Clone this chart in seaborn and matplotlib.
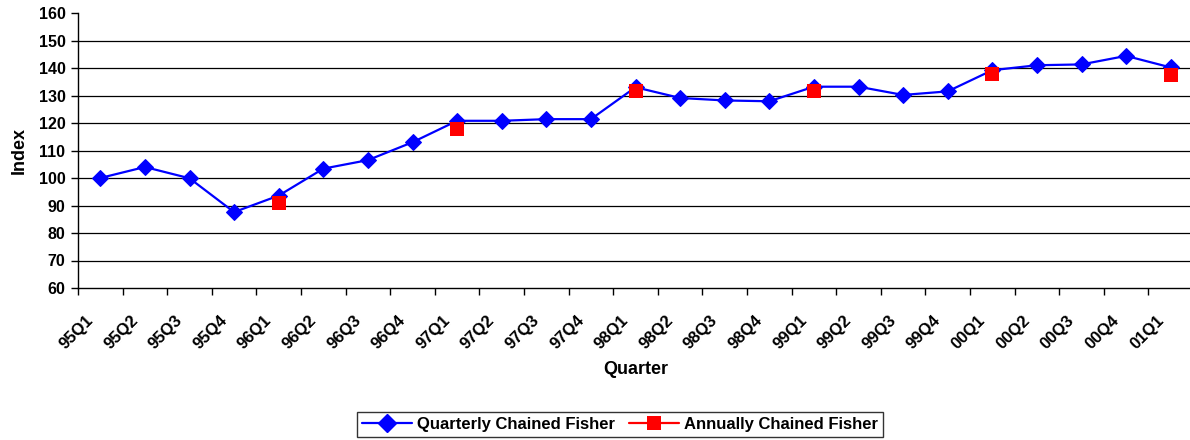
import numpy as np
import pandas as pd
import matplotlib
matplotlib.use("Agg")
import matplotlib.pyplot as plt
from matplotlib.lines import Line2D
import seaborn as sns

quarters = ["95Q1", "95Q2", "95Q3", "95Q4", "96Q1", "96Q2", "96Q3", "96Q4",
            "97Q1", "97Q2", "97Q3", "97Q4", "98Q1", "98Q2", "98Q3", "98Q4",
            "99Q1", "99Q2", "99Q3", "99Q4", "00Q1", "00Q2", "00Q3", "00Q4",
            "01Q1"]
quarterly_fisher = [100.0, 104.0, 99.9, 87.6, 93.6, 103.4, 106.5, 113.0,
                    120.8, 120.8, 121.4, 121.4, 133.0, 129.1, 128.2, 127.9,
                    133.2, 133.2, 130.2, 131.5, 139.2, 141.0, 141.3, 144.4,
                    140.2]
annual_quarters = ["96Q1", "97Q1", "98Q1", "99Q1", "00Q1", "01Q1"]
annual_fisher = [90.9, 117.9, 131.6, 131.6, 137.7, 137.6]
y_ticks = [60, 70, 80, 90, 100, 110, 120, 130, 140, 150, 160]

sns.set_style("white")
plt.rcParams["font.family"] = ["Liberation Sans", "DejaVu Sans"]
plt.rcParams["font.weight"] = "bold"
plt.rcParams["text.color"] = "black"
plt.rcParams["axes.labelcolor"] = "black"
plt.rcParams["xtick.color"] = "black"
plt.rcParams["ytick.color"] = "black"

pos = {q: i for i, q in enumerate(quarters)}
quarterly_df = pd.DataFrame({"x": np.arange(len(quarters)), "value": quarterly_fisher})
annual_df = pd.DataFrame({"x": [pos[q] for q in annual_quarters], "value": annual_fisher})

fig = plt.figure(figsize=(11.9, 4.4), dpi=100)
ax = fig.add_axes([78 / 1190, 1 - 288 / 440, 1115 / 1190, 275 / 440])

blue = "#0000FF"
red = "#FF0000"

sns.lineplot(data=quarterly_df, x="x", y="value", ax=ax, color=blue,
             linewidth=1.6, marker="D", markersize=8.5, markeredgecolor=blue,
             zorder=3)
sns.scatterplot(data=annual_df, x="x", y="value", ax=ax, color=red,
                marker="s", s=100, edgecolor=red, linewidth=0, zorder=4)

ax.set_xlim(-0.5, len(quarters) - 0.5)
ax.set_ylim(60, 160)
ax.set_yticks(y_ticks)
# rotated labels end a little to the left of each category centre
ax.set_xticks(np.arange(len(quarters)) - 0.33)
ax.set_xticks(np.arange(len(quarters) + 1) - 0.5, minor=True)
ax.set_xticklabels(quarters, rotation=45, ha="right", rotation_mode="anchor",
                   fontsize=12, fontweight="bold")
for lbl in ax.get_yticklabels():
    lbl.set_fontsize(11.5)
    lbl.set_fontweight("bold")

ax.tick_params(axis="x", which="major", length=0, pad=18)
ax.tick_params(axis="x", which="minor", length=5, width=1, color="black",
               direction="out", bottom=True)
ax.tick_params(axis="y", which="major", length=5, width=1, color="black",
               direction="out", left=True, pad=4)

for v in y_ticks[1:-1]:
    ax.axhline(v, color="black", linewidth=0.9, zorder=1)

for side in ["top", "right"]:
    ax.spines[side].set_visible(False)
for side in ["left", "bottom"]:
    ax.spines[side].set_color("black")
    ax.spines[side].set_linewidth(1)

ax.set_xlabel("Quarter", fontsize=13, fontweight="bold", labelpad=6)
ax.set_ylabel("Index", fontsize=13, fontweight="bold", labelpad=8)

handles = [
    Line2D([], [], color=blue, linewidth=1.6, marker="D", markersize=9),
    Line2D([], [], color=red, linewidth=1.6, marker="s", markersize=10,
           markeredgewidth=0),
]
leg = fig.legend(handles, ["Quarterly Chained Fisher", "Annually Chained Fisher"],
                 loc="center", bbox_to_anchor=(620 / 1190, 1 - 424 / 440),
                 ncol=2, frameon=True, fancybox=False,
                 handlelength=3.0, columnspacing=0.8, handletextpad=0.3,
                 borderpad=0.3, prop={"weight": "bold", "size": 12})
leg.get_frame().set_edgecolor("black")
leg.get_frame().set_linewidth(1)

fig.savefig("out.png", dpi=100)
